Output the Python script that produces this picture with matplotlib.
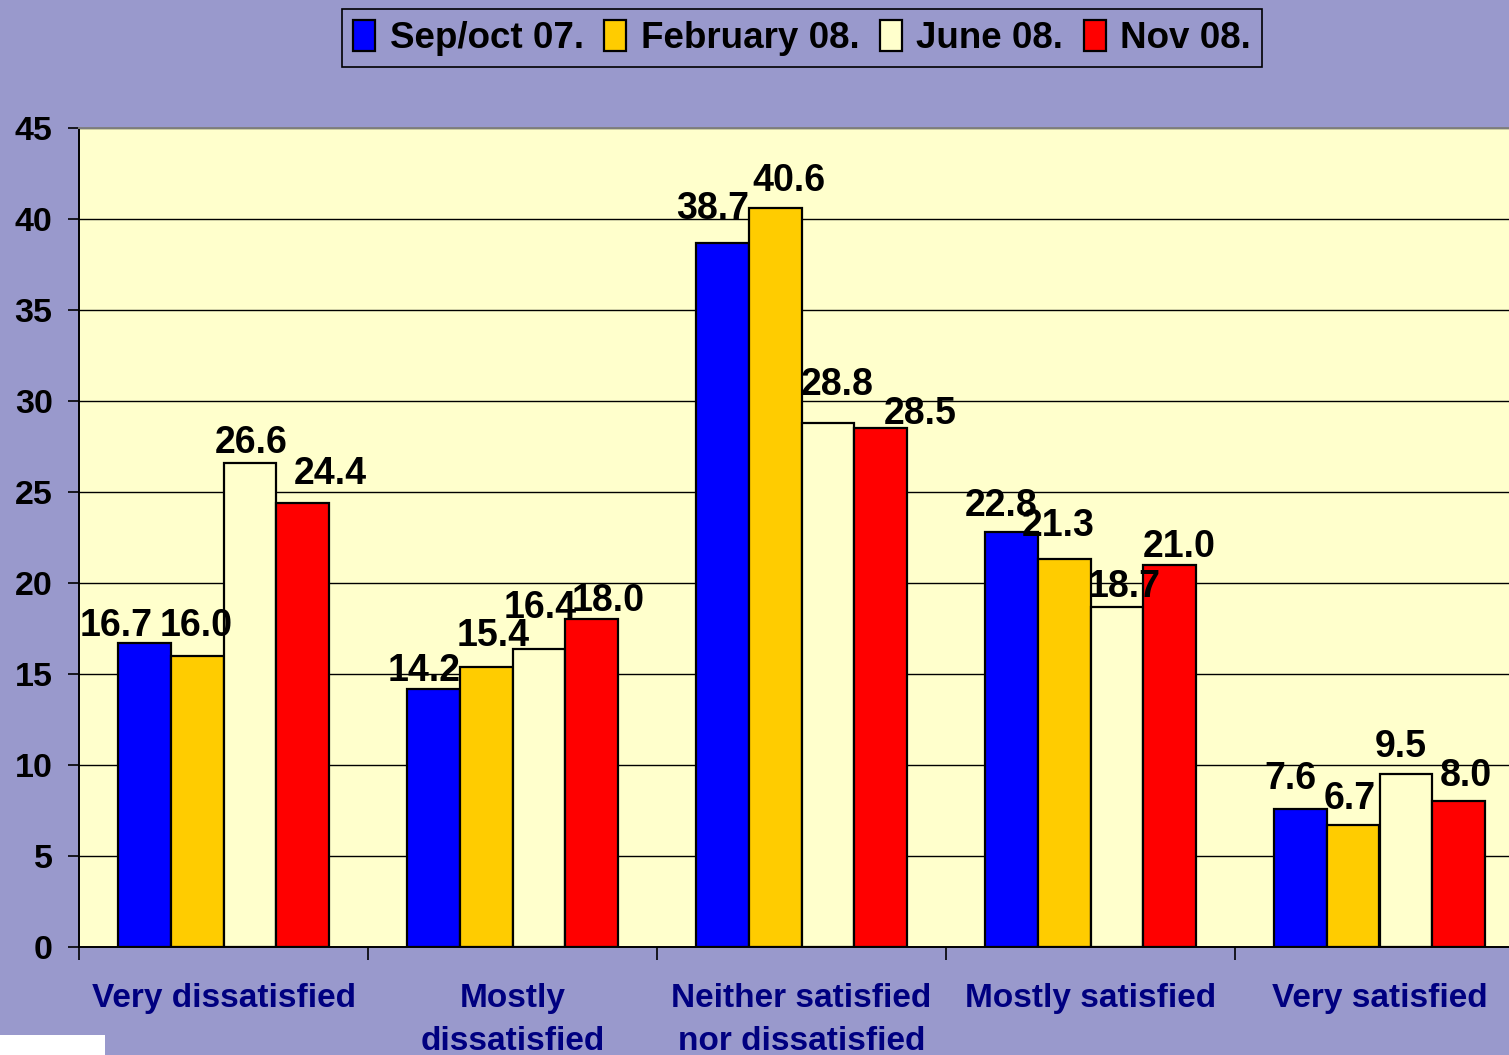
import matplotlib
matplotlib.use("Agg")
import matplotlib.pyplot as plt
import numpy as np
from matplotlib.patches import Rectangle

categories = ["Very dissatisfied", "Mostly\ndissatisfied", "Neither satisfied\nnor dissatisfied",
              "Mostly satisfied", "Very satisfied"]
series_names = ["Sep/oct 07.", "February 08.", "June 08.", "Nov 08."]
sep_oct_07 = [16.7, 14.2, 38.7, 22.8, 7.6]
february_08 = [16.0, 15.4, 40.6, 21.3, 6.7]
june_08 = [26.6, 16.4, 28.8, 18.7, 9.5]
nov_08 = [24.4, 18.0, 28.5, 21.0, 8.0]
yticks = [0, 5, 10, 15, 20, 25, 30, 35, 40, 45]

series = [sep_oct_07, february_08, june_08, nov_08]
colors = ["#0000FF", "#FFCC00", "#FFFFCC", "#FF0000"]

# label nudges (pixels) to mimic the original label placement
label_dx = [[-28, -1, 1, 28], [-9, 7, 1, 17], [-10, 14, 9, 40], [-10, -6, 7, 10], [-10, -4, -5, 7]]
label_dy = [[17, 30, 20, 29], [18, 31, 41, 18], [34, 27, 38, 14], [26, 33, 20, 18], [30, 26, 27, 25]]

plt.rcParams['font.family'] = ['Liberation Sans', 'DejaVu Sans']
plt.rcParams['font.weight'] = 'bold'

W, H = 1509, 1055
fig = plt.figure(figsize=(W / 100, H / 100), dpi=100)
fig.patch.set_facecolor("#9999CC")
ax = fig.add_axes([79 / W, (H - 947) / H, (1524 - 79) / W, (947 - 128) / H])
ax.set_facecolor("#FFFFCC")

n = len(categories)
x = np.arange(n)
bw = 0.182
for i, (vals, c, name) in enumerate(zip(series, colors, series_names)):
    pos = x + (i - 1.5) * bw
    ax.bar(pos, vals, width=bw, color=c, edgecolor="black", linewidth=1.6, label=name, zorder=3)
    for j, v in enumerate(vals):
        dx = label_dx[j][i] * 0.72
        dy = label_dy[j][i] * 0.72
        ax.annotate(f"{v:.1f}", (pos[j], v), xytext=(dx, dy), textcoords="offset points",
                    ha="center", va="center", fontsize=27, fontweight="bold", color="black",
                    zorder=5, annotation_clip=False)

ax.set_xlim(-0.5, n - 0.5)
ax.set_ylim(0, 45)
ax.set_yticks(yticks)
ax.set_yticklabels([str(t) for t in yticks], fontsize=24.5, fontweight="bold")
ax.yaxis.grid(True, color="black", linewidth=1.0, zorder=0)
ax.set_axisbelow(True)
ax.tick_params(axis="y", length=8, width=1.2, pad=11, colors="black")

ax.set_xticks(np.arange(n + 1) - 0.5, minor=False)
ax.set_xticklabels([])
ax.tick_params(axis="x", which="major", length=9, width=1.2, direction="out")
ax.set_xticks(x, minor=True)
ax.set_xticklabels(categories, minor=True, fontsize=24, fontweight="bold", color="#000080",
                   linespacing=1.5, va="top")
ax.tick_params(axis="x", which="minor", length=0, pad=26)

for s in ["left", "bottom"]:
    ax.spines[s].set_color("black")
    ax.spines[s].set_linewidth(1.4)
ax.spines["top"].set_color("#808080")
ax.spines["top"].set_linewidth(1.4)
ax.spines["right"].set_visible(False)

leg = fig.legend(loc="center", bbox_to_anchor=(802 / W, 1 - 38 / H), ncol=4,
                 frameon=True, fancybox=False, edgecolor="black", facecolor="#9999CC",
                 handlelength=0.6, handleheight=0.9, handletextpad=0.4, columnspacing=0.55,
                 borderpad=0.3, borderaxespad=0.0, prop={"weight": "bold", "size": 26.5})
leg.get_frame().set_linewidth(1.2)
leg.get_frame().set_alpha(None)

fig.patches.append(Rectangle((0, 0), 105 / W, 20 / H, transform=fig.transFigure,
                             facecolor="white", edgecolor="none", zorder=10))

fig.savefig("out.png", dpi=100, facecolor=fig.get_facecolor())
